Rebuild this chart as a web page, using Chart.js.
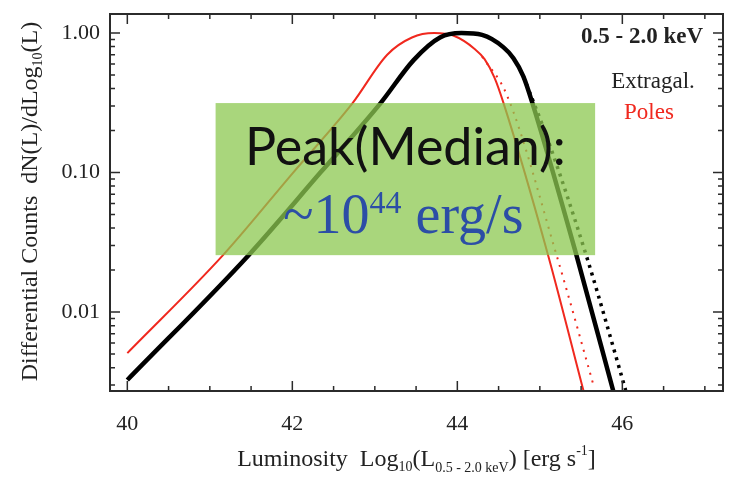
<!DOCTYPE html>
<html>
<head>
<meta charset="utf-8">
<script src="https://cdn.jsdelivr.net/npm/chart.js@4/dist/chart.umd.min.js"></script>
<style>
  body { margin: 0; background: #fff; }
</style>
</head>
<body>
<canvas id="lumfn" width="730" height="479"></canvas>
<script>
// log10 L (erg/s) and normalised dN/dlogL, 0.5-2.0 keV band
var extragalL = [40.0, 41.47, 42.34, 43.07, 43.47, 43.79, 44.05, 44.30, 44.56, 44.68, 44.80, 44.91, 45.45, 45.89]
var extragalN = [0.00326, 0.0256, 0.100, 0.315, 0.64, 0.93, 1.0, 0.97, 0.79, 0.66, 0.49, 0.315, 0.0248, 0.00272]
var extragalTailL = [44.80, 45.10, 45.58, 46.04]
var extragalTailN = [0.49, 0.17, 0.0236, 0.00276]

var polesL = [40.0, 41.16, 42.01, 42.73, 43.15, 43.45, 43.72, 43.95, 44.21, 44.33, 44.45, 44.56, 45.10, 45.53]
var polesN = [0.00508, 0.0256, 0.100, 0.315, 0.70, 0.93, 1.0, 0.96, 0.77, 0.65, 0.48, 0.315, 0.0256, 0.00272]
var polesTailL = [44.30, 44.60, 45.22, 45.65]
var polesTailN = [0.68, 0.36, 0.0236, 0.0030]

var xTickValues = [40, 42, 44, 46]
var yTickValues = [0.01, 0.1, 1]

var serif = '"Liberation Serif", "Times New Roman", serif'
var black = '#000000'
var red = '#f0281e'
var axisColor = '#2b2b2b'

function toPoints(xs, ys) {
    return xs.map(function (x, i) { return { x: x, y: ys[i] } })
}

// width of a run of text pieces in mixed fonts
function richWidth(ctx, parts) {
    var w = 0
    parts.forEach(function (p) {
        ctx.font = p.font
        w += ctx.measureText(p.text).width
    })
    return w
}

// draws text pieces (sub/superscripts via dy) centred on x
function drawRich(ctx, parts, x, y, color) {
    var cx = x - richWidth(ctx, parts) / 2
    ctx.textAlign = 'left'
    ctx.textBaseline = 'alphabetic'
    parts.forEach(function (p) {
        ctx.font = p.font
        ctx.fillStyle = p.color || color
        ctx.fillText(p.text, cx, y + (p.dy || 0))
        cx += ctx.measureText(p.text).width
    })
}

// keep the plot box where the layout padding puts it
function noScalePadding(scale) {
    scale.paddingLeft = 0
    scale.paddingRight = 0
    scale.paddingTop = 0
    scale.paddingBottom = 0
}

// IDL style frame with inward ticks on all four sides
var framePlugin = {
    id: 'frame',
    afterDraw: function (chart) {
        var ctx = chart.ctx
        var a = chart.chartArea
        var xs = chart.scales.x
        var ys = chart.scales.y
        ctx.save()
        ctx.strokeStyle = axisColor
        ctx.lineWidth = 2
        ctx.strokeRect(a.left, a.top, a.right - a.left, a.bottom - a.top)

        ctx.lineWidth = 1.5
        ctx.beginPath()
        for (var v = 40; v <= xs.max; v += 0.5) {
            var px = xs.getPixelForValue(v)
            var len = (v % 2 === 0) ? 10 : 5
            ctx.moveTo(px, a.bottom); ctx.lineTo(px, a.bottom - len)
            ctx.moveTo(px, a.top); ctx.lineTo(px, a.top + len)
        }
        for (var d = -3; d <= 0; d++) {
            for (var k = 1; k <= 9; k++) {
                var val = k * Math.pow(10, d)
                if (val < ys.min || val > ys.max) continue
                var py = ys.getPixelForValue(val)
                var l = (k === 1) ? 10 : 5
                ctx.moveTo(a.left, py); ctx.lineTo(a.left + l, py)
                ctx.moveTo(a.right, py); ctx.lineTo(a.right - l, py)
            }
        }
        ctx.stroke()

        // axis titles
        var big = '24px ' + serif
        var small = '14px ' + serif
        drawRich(ctx, [
            { text: 'Luminosity  Log', font: big },
            { text: '10', font: small, dy: 5 },
            { text: '(L', font: big },
            { text: '0.5 - 2.0 keV', font: small, dy: 6 },
            { text: ') [erg s', font: big },
            { text: '-1', font: small, dy: -11 },
            { text: ']', font: big }
        ], (a.left + a.right) / 2, 466, '#222')

        ctx.save()
        ctx.translate(37, (a.top + a.bottom) / 2 - 1)
        ctx.rotate(-Math.PI / 2)
        drawRich(ctx, [
            { text: 'Differential Counts  dN(L)/dLog', font: big },
            { text: '10', font: small, dy: 5 },
            { text: '(L)', font: big }
        ], 0, 0, '#222')
        ctx.restore()

        // band and sample labels
        ctx.font = 'bold 23px ' + serif
        ctx.fillStyle = '#222'
        ctx.textAlign = 'right'
        ctx.fillText('0.5 - 2.0 keV', 703, 43)
        ctx.textAlign = 'center'
        ctx.font = '23px ' + serif
        ctx.fillText('Extragal.', 653, 88)
        ctx.fillStyle = red
        ctx.fillText('Poles', 649, 119)
        ctx.restore()
    }
}

// translucent note box laid over the curves
var noteBox = { x0: 41.07, x1: 45.67, y0: 0.0256, y1: 0.315 }
var notePlugin = {
    id: 'note',
    afterDatasetsDraw: function (chart) {
        var ctx = chart.ctx
        var xs = chart.scales.x
        var ys = chart.scales.y
        var left = xs.getPixelForValue(noteBox.x0)
        var right = xs.getPixelForValue(noteBox.x1)
        var top = ys.getPixelForValue(noteBox.y1)
        var bottom = ys.getPixelForValue(noteBox.y0)
        var cx = (left + right) / 2
        ctx.save()
        ctx.fillStyle = 'rgba(140, 200, 80, 0.75)'
        ctx.fillRect(left, top, right - left, bottom - top)

        ctx.textAlign = 'center'
        ctx.textBaseline = 'alphabetic'
        ctx.font = '52px Lato, "Open Sans", sans-serif'
        ctx.fillStyle = '#111'
        ctx.fillText('Peak(Median):', cx, top + 62)

        drawRich(ctx, [
            { text: '~10', font: '56px ' + serif },
            { text: '44', font: '32px ' + serif, dy: -20 },
            { text: ' erg/s', font: '56px ' + serif }
        ], cx - 2, top + 130, '#2c4ea6')
        ctx.restore()
    }
}

var lumChart = new Chart(document.getElementById('lumfn'), {
    type: 'line',
    data: {
        datasets: [
            {
                label: 'Extragal.',
                data: toPoints(extragalL, extragalN),
                borderColor: black,
                borderWidth: 4.5,
                cubicInterpolationMode: 'monotone'
            },
            {
                label: 'Extragal. (tail)',
                data: toPoints(extragalTailL, extragalTailN),
                borderColor: black,
                borderWidth: 3.5,
                borderDash: [3, 5],
                cubicInterpolationMode: 'monotone'
            },
            {
                label: 'Poles',
                data: toPoints(polesL, polesN),
                borderColor: red,
                borderWidth: 2,
                cubicInterpolationMode: 'monotone'
            },
            {
                label: 'Poles (tail)',
                data: toPoints(polesTailL, polesTailN),
                borderColor: red,
                borderWidth: 2,
                borderDash: [2, 6],
                cubicInterpolationMode: 'monotone'
            }
        ]
    },
    options: {
        responsive: false,
        animation: false,
        elements: { point: { radius: 0 } },
        layout: { padding: { top: 14, right: 7, left: 0, bottom: 0 } },
        scales: {
            x: {
                type: 'linear',
                min: 39.79,
                max: 47.22,
                grid: { display: false, drawTicks: false },
                border: { display: false },
                afterBuildTicks: function (scale) {
                    scale.ticks = xTickValues.map(function (v) { return { value: v } })
                },
                afterFit: function (scale) {
                    scale.height = 88
                    noScalePadding(scale)
                },
                ticks: {
                    padding: 20,
                    maxRotation: 0,
                    color: '#222',
                    font: { family: serif, size: 22 }
                }
            },
            y: {
                type: 'logarithmic',
                min: 0.00272,
                max: 1.37,
                grid: { display: false, drawTicks: false },
                border: { display: false },
                afterBuildTicks: function (scale) {
                    scale.ticks = yTickValues.map(function (v) { return { value: v } })
                },
                afterFit: function (scale) {
                    scale.width = 110
                    noScalePadding(scale)
                },
                ticks: {
                    padding: 10,
                    color: '#222',
                    font: { family: serif, size: 22 },
                    callback: function (value) { return Number(value).toFixed(2) }
                }
            }
        },
        plugins: {
            legend: { display: false },
            tooltip: { enabled: false }
        }
    },
    plugins: [notePlugin, framePlugin]
})
</script>
</body>
</html>
